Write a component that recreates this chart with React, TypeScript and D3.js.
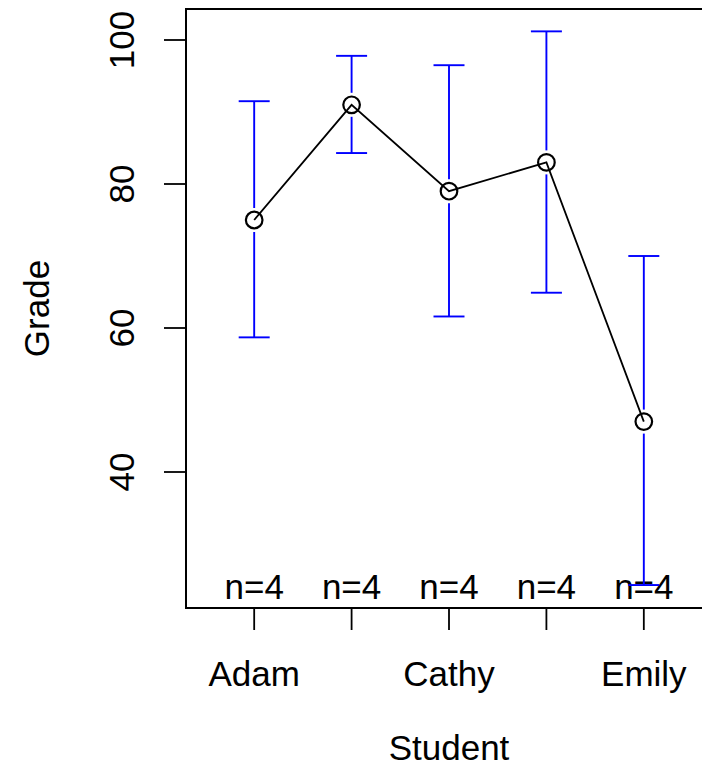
import React, { useRef, useEffect } from "react";
import * as d3 from "d3";

// per-student summary (mean with 95% CI)
const students = ["Adam", "Bob", "Cathy", "Dan", "Emily"];
const means = [75, 91, 79, 83, 47];
const ciLower = [58.7, 84.3, 61.6, 64.9, 24.3];
const ciUpper = [91.5, 97.8, 96.5, 101.2, 70];
const counts = [4, 4, 4, 4, 4];
const yTicks = [40, 60, 80, 100];
// R drops overlapping labels, only every other one is shown
const shownLabels = ["Adam", "Cathy", "Emily"];

const App = () => {
  const svgRef = useRef<SVGSVGElement>(null);

  useEffect(() => {
    const width = 702;
    const height = 775;
    const left = 186;
    const right = 712;
    const top = 9;
    const bottom = 608;
    const font = "'Liberation Sans', Arial, sans-serif";
    const fs = 35;

    const svg = d3.select(svgRef.current).attr("width", width).attr("height", height);
    svg.selectAll("*").remove();

    const x = d3.scaleLinear().domain([0.3, 5.7]).range([left, right]);
    const y = d3.scaleLinear().domain([40, 100]).range([472, 40]);

    const pts = students.map((s, i) => ({
      name: s,
      i: i + 1,
      mean: means[i],
      lo: ciLower[i],
      hi: ciUpper[i],
      n: counts[i],
    }));

    // plot box
    svg
      .append("rect")
      .attr("x", left)
      .attr("y", top)
      .attr("width", right - left)
      .attr("height", bottom - top)
      .attr("fill", "none")
      .attr("stroke", "#000")
      .attr("stroke-width", 2);

    // y axis
    const yg = svg.append("g");
    yg.selectAll("line")
      .data(yTicks)
      .join("line")
      .attr("x1", left - 22)
      .attr("x2", left)
      .attr("y1", (d) => y(d))
      .attr("y2", (d) => y(d))
      .attr("stroke", "#000")
      .attr("stroke-width", 1.8);
    yg.selectAll("text")
      .data(yTicks)
      .join("text")
      .attr("transform", (d) => `translate(134,${y(d)}) rotate(-90)`)
      .attr("text-anchor", "middle")
      .style("font-family", font)
      .style("font-size", `${fs}px`)
      .text((d) => d);

    // x axis
    const xg = svg.append("g");
    xg.selectAll("line")
      .data(pts)
      .join("line")
      .attr("x1", (d) => x(d.i))
      .attr("x2", (d) => x(d.i))
      .attr("y1", bottom)
      .attr("y2", bottom + 22)
      .attr("stroke", "#000")
      .attr("stroke-width", 1.8);
    xg.selectAll("text")
      .data(pts.filter((d) => shownLabels.includes(d.name)))
      .join("text")
      .attr("x", (d) => x(d.i))
      .attr("y", 686)
      .attr("text-anchor", "middle")
      .style("font-family", font)
      .style("font-size", `${fs}px`)
      .text((d) => d.name);

    // axis titles
    svg
      .append("text")
      .attr("x", (left + right) / 2)
      .attr("y", 760)
      .attr("text-anchor", "middle")
      .style("font-family", font)
      .style("font-size", `${fs}px`)
      .text("Student");
    svg
      .append("text")
      .attr("transform", `translate(49,${(top + bottom) / 2}) rotate(-90)`)
      .attr("text-anchor", "middle")
      .style("font-family", font)
      .style("font-size", `${fs}px`)
      .text("Grade");

    // n= labels
    svg
      .append("g")
      .selectAll("text")
      .data(pts)
      .join("text")
      .attr("x", (d) => x(d.i))
      .attr("y", 599)
      .attr("text-anchor", "middle")
      .style("font-family", font)
      .style("font-size", `${fs}px`)
      .text((d) => `n=${d.n}`);

    // error bars, with a gap round the point
    const gap = 12;
    const cap = 15.5;
    const eb = svg.append("g").attr("stroke", "#0000FF").attr("stroke-width", 1.9);
    pts.forEach((d) => {
      const cx = x(d.i);
      const cy = y(d.mean);
      eb.append("line").attr("x1", cx).attr("x2", cx).attr("y1", y(d.hi)).attr("y2", cy - gap);
      eb.append("line").attr("x1", cx).attr("x2", cx).attr("y1", cy + gap).attr("y2", y(d.lo));
      eb.append("line").attr("x1", cx - cap).attr("x2", cx + cap).attr("y1", y(d.hi)).attr("y2", y(d.hi));
      eb.append("line").attr("x1", cx - cap).attr("x2", cx + cap).attr("y1", y(d.lo)).attr("y2", y(d.lo));
    });

    // connecting line
    const line = d3
      .line<any>()
      .x((d) => x(d.i))
      .y((d) => y(d.mean));
    svg
      .append("path")
      .datum(pts)
      .attr("d", line)
      .attr("fill", "none")
      .attr("stroke", "#000")
      .attr("stroke-width", 1.8);

    // points
    svg
      .append("g")
      .selectAll("circle")
      .data(pts)
      .join("circle")
      .attr("cx", (d) => x(d.i))
      .attr("cy", (d) => y(d.mean))
      .attr("r", 8.3)
      .attr("fill", "none")
      .attr("stroke", "#000")
      .attr("stroke-width", 2.2);
  }, []);

  return <svg ref={svgRef} style={{ position: "absolute", left: 0, top: 0 }}></svg>;
};

export default App;
